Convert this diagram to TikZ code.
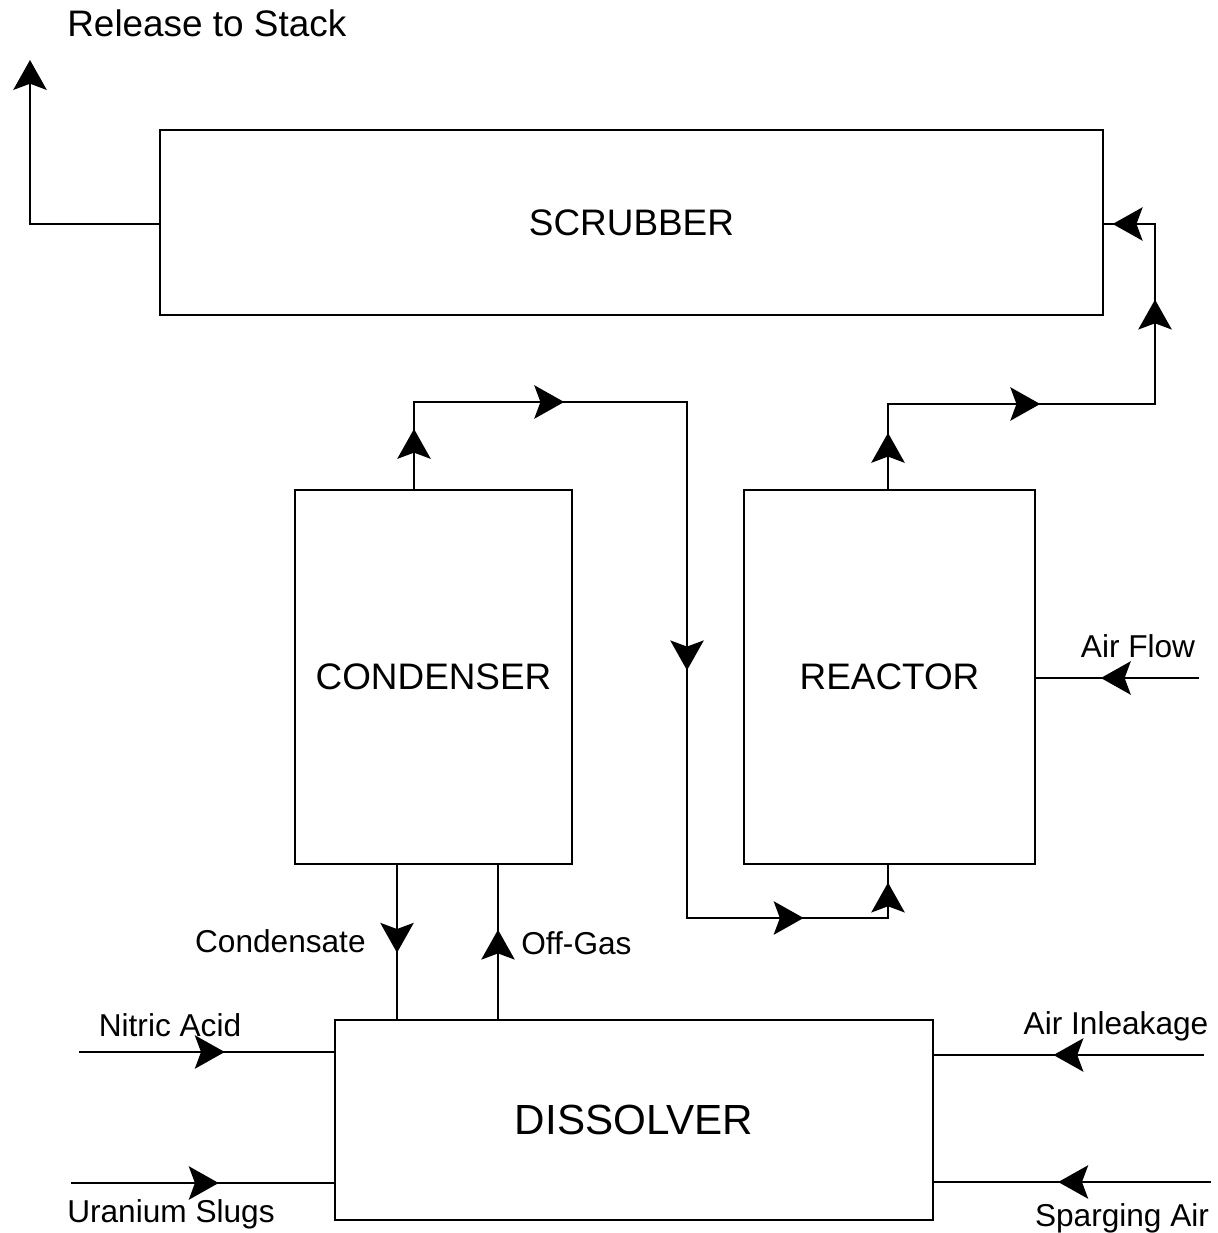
\documentclass[tikz,border=0pt]{standalone}
\usepackage{fontspec}
\setmainfont{Liberation Sans}
\usepackage{tikz}
\usetikzlibrary{arrows.meta, positioning, calc, decorations.markings}
\tikzset{>={Stealth}}
\tikzset{flowtip/.tip={Stealth[length=17pt,width=19pt,inset=3.5pt]}}

\begin{document}
\begin{tikzpicture}[
  x=0.02cm, y=-0.02cm,
  unit/.style={rectangle,draw,line width=1.3pt,inner sep=0pt,font=\fontsize{21}{24}\selectfont},
  lbl/.style={inner sep=0pt,font=\fontsize{18}{21}\selectfont},
  line/.style={line width=1.3pt,line cap=rect},
  midflow/.style={line,postaction={decorate},decoration={markings,mark=at position #1 with {\arrow{flowtip}}}}
]
  \useasboundingbox (0,0) rectangle (1217,1233);

  % Units
  \node[unit, minimum width=18.86cm, minimum height=3.7cm] (scrub) at (631.5,222.5) {SCRUBBER};
  \node[unit, minimum width=5.54cm, minimum height=7.48cm] (cond) at (433.5,677) {CONDENSER};
  \node[unit, minimum width=5.82cm, minimum height=7.48cm] (react) at (889.5,677) {REACTOR};
  \node[unit, minimum width=11.96cm, minimum height=4cm, font=\fontsize{24}{27}\selectfont] (diss) at (634,1120) {DISSOLVER};

  % Bend points
  \coordinate (stack) at (30,60);
  \coordinate (c1) at (414,402);
  \coordinate (c2) at (687,402);
  \coordinate (c3) at (687,918);
  \coordinate (c4) at (888,918);
  \coordinate (r1) at (888,404);
  \coordinate (r2) at (1155,404);
  \coordinate (r3) at (1155,224);
  \coordinate (air) at (1198,678);
  \coordinate (cnd) at (397,0);
  \coordinate (gas) at (498,0);
  \coordinate (nitric) at (80,1052);
  \coordinate (slugs) at (72,1183);
  \coordinate (inleak) at (1203,1055);
  \coordinate (sparge) at (1210,1182);

  % Scrubber to stack
  \draw[line,-{flowtip}] (scrub.west |- 0,224) -| (stack);
  \node[lbl, anchor=west, font=\fontsize{21}{24}\selectfont] (rel) at (67,23) {Release to Stack};

  % Condenser off-gas to reactor
  \draw[midflow=0.69] (cond.north -| c1) -- (c1);
  \draw[midflow=0.55] (c1) -- (c2);
  \draw[midflow=0.52] (c2) -- (c3);
  \draw[midflow=0.58] (c3) -- (c4);
  \draw[midflow=0.67] (c4) -- (react.south -| c4);

  % Reactor to scrubber
  \draw[midflow=0.66] (react.north -| r1) -- (r1);
  \draw[midflow=0.57] (r1) -- (r2);
  \draw[midflow=0.58] (r2) -- (r3);
  \draw[midflow=0.83] (r3) -- (scrub.east |- r3);

  % Air flow
  \draw[midflow=0.6] (air) -- (react.east |- air);
  \node[lbl] (airlbl) at (1138,646) {Air Flow};

  % Condenser and dissolver
  \draw[midflow=0.57] (cond.south -| cnd) -- (diss.north -| cnd);
  \draw[midflow=0.58] (diss.north -| gas) -- (cond.south -| gas);
  \node[lbl, anchor=east] (cndlbl) at (366,941) {Condensate};
  \node[lbl, anchor=west] (gaslbl) at (521,943) {Off-Gas};

  % Dissolver feeds
  \draw[midflow=0.57] (nitric) -- (diss.west |- nitric);
  \draw[midflow=0.56] (slugs) -- (diss.west |- slugs);
  \draw[midflow=0.556] (inleak) -- (diss.east |- inleak);
  \draw[midflow=0.55] (sparge) -- (diss.east |- sparge);
  \node[lbl] (nitlbl) at (170,1025) {Nitric Acid};
  \node[lbl] (slglbl) at (171,1214) {Uranium Slugs};
  \node[lbl] (inlbl) at (1116,1026) {Air Inleakage};
  \node[lbl] (splbl) at (1122,1218) {Sparging Air};
\end{tikzpicture}
\end{document}
